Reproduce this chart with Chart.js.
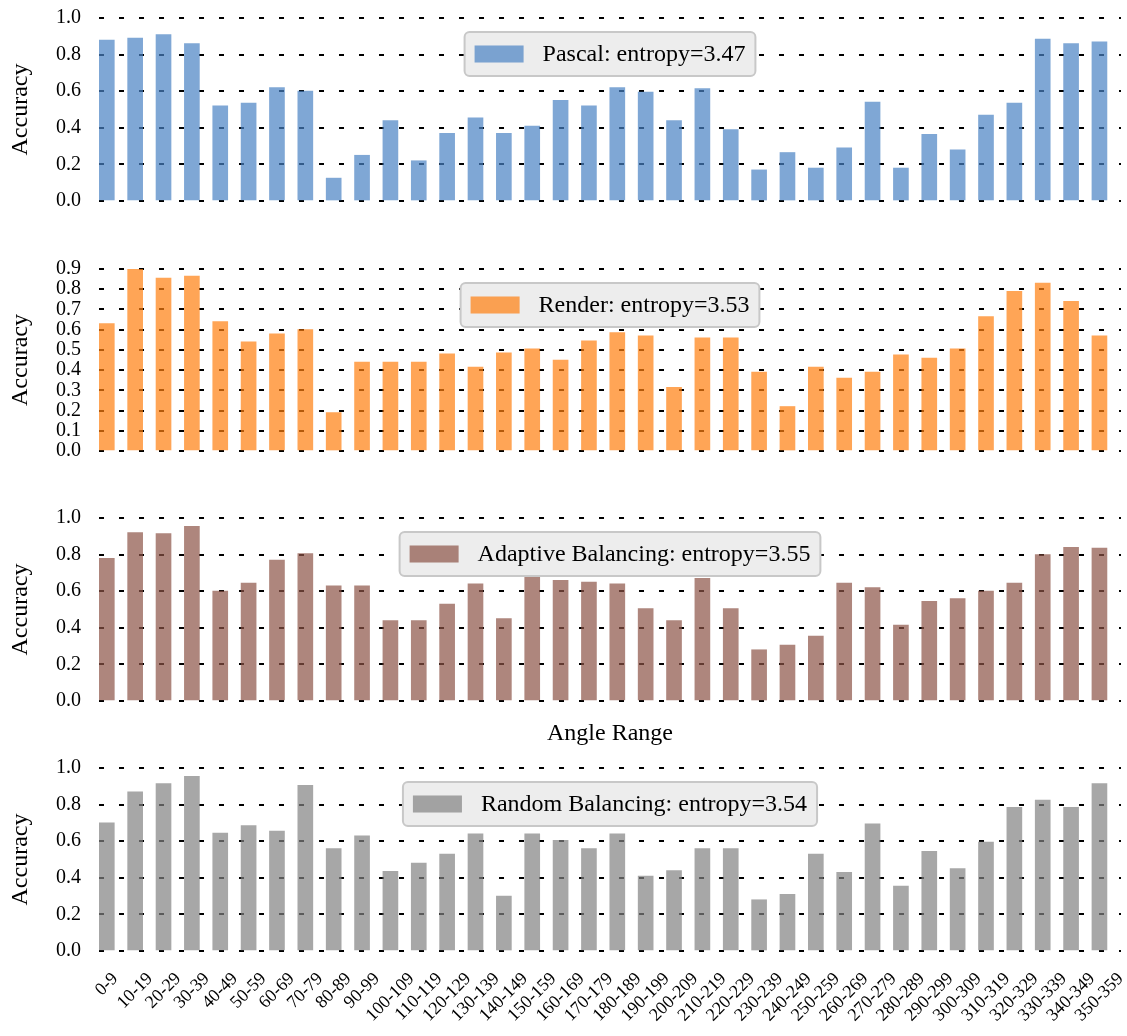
<!DOCTYPE html>
<html>
<head>
<meta charset="utf-8">
<script src="https://cdn.jsdelivr.net/npm/chart.js@4.4.1/dist/chart.umd.min.js"></script>
<style>
  html, body { margin: 0; padding: 0; background: #fff; }
  #wrap { position: relative; width: 1127px; height: 1036px; }
  #wrap canvas { position: absolute; left: 0; }
</style>
</head>
<body>
<div id="wrap">
  <canvas id="c1" width="1127" height="225" style="top:0px"></canvas>
  <canvas id="c2" width="1127" height="225" style="top:250px"></canvas>
  <canvas id="c3" width="1127" height="250" style="top:500px"></canvas>
  <canvas id="c4" width="1127" height="286" style="top:750px"></canvas>
</div>
<script>
// angle bins (x categories)
const angleRanges = ['0-9', '10-19', '20-29', '30-39', '40-49', '50-59', '60-69', '70-79', '80-89',
  '90-99', '100-109', '110-119', '120-129', '130-139', '140-149', '150-159', '160-169', '170-179',
  '180-189', '190-199', '200-209', '210-219', '220-229', '230-239', '240-249', '250-259', '260-269',
  '270-279', '280-289', '290-299', '300-309', '310-319', '320-329', '330-339', '340-349', '350-359'];

// accuracy per angle bin
const pascalAcc = [0.88, 0.89, 0.91, 0.86, 0.52, 0.535, 0.62, 0.60, 0.125, 0.25, 0.44, 0.22,
  0.37, 0.455, 0.37, 0.41, 0.55, 0.52, 0.62, 0.595, 0.44, 0.615, 0.39, 0.17,
  0.265, 0.18, 0.29, 0.54, 0.18, 0.365, 0.28, 0.47, 0.535, 0.885, 0.86, 0.87];
const renderAcc = [0.63, 0.90, 0.855, 0.865, 0.64, 0.54, 0.58, 0.60, 0.19, 0.44, 0.44, 0.44,
  0.48, 0.415, 0.485, 0.505, 0.45, 0.545, 0.585, 0.57, 0.315, 0.56, 0.56, 0.39,
  0.22, 0.415, 0.36, 0.39, 0.475, 0.46, 0.505, 0.665, 0.79, 0.83, 0.74, 0.57];
const adaptiveAcc = [0.78, 0.92, 0.915, 0.955, 0.60, 0.645, 0.77, 0.805, 0.63, 0.63, 0.44, 0.44,
  0.53, 0.64, 0.45, 0.685, 0.66, 0.65, 0.64, 0.505, 0.44, 0.67, 0.505, 0.28,
  0.305, 0.355, 0.645, 0.62, 0.415, 0.545, 0.56, 0.60, 0.645, 0.80, 0.84, 0.835];
const randomAcc = [0.70, 0.87, 0.915, 0.955, 0.645, 0.685, 0.655, 0.905, 0.56, 0.63, 0.435, 0.48,
  0.53, 0.64, 0.30, 0.64, 0.605, 0.56, 0.64, 0.41, 0.44, 0.56, 0.56, 0.28,
  0.31, 0.53, 0.43, 0.695, 0.355, 0.545, 0.45, 0.595, 0.785, 0.825, 0.785, 0.915];

const legendLabels = ['Pascal: entropy=3.47', 'Render: entropy=3.53',
  'Adaptive Balancing: entropy=3.55', 'Random Balancing: entropy=3.54'];

const SERIF = "'Liberation Serif', 'Times New Roman', serif";

// boxed legend in the upper centre of each panel
const boxLegend = {
  id: 'boxLegend',
  afterDraw(chart, args, opts) {
    const ctx = chart.ctx;
    const area = chart.chartArea;
    ctx.save();
    ctx.font = '24px ' + SERIF;
    const tw = ctx.measureText(opts.text).width;
    const w = 10 + 49 + 19 + tw + 10;
    const h = 44;
    const x = (area.left + area.right) / 2 - w / 2;
    const y = area.top + 14;
    ctx.beginPath();
    ctx.roundRect(x, y, w, h, 5);
    ctx.fillStyle = '#ededed';
    ctx.fill();
    ctx.lineWidth = 2;
    ctx.strokeStyle = '#c8c8c8';
    ctx.stroke();
    ctx.fillStyle = opts.color;
    ctx.fillRect(x + 10, y + h / 2 - 8.5, 49, 17);
    ctx.fillStyle = '#000';
    ctx.textBaseline = 'middle';
    ctx.fillText(opts.text, x + 78, y + h / 2 + 1);
    ctx.restore();
  }
};

// matplotlib-style 45 degree tick labels, centred under each bar
const angleLabels = {
  id: 'angleLabels',
  afterDraw(chart) {
    const ctx = chart.ctx;
    const xs = chart.scales.x;
    ctx.save();
    ctx.font = '18px ' + SERIF;
    ctx.fillStyle = '#000';
    ctx.textAlign = 'center';
    ctx.textBaseline = 'middle';
    angleRanges.forEach((lab, i) => {
      const px = xs.getPixelForValue(i);
      const w = ctx.measureText(lab).width;
      const H = (w + 14) * Math.SQRT1_2;
      const cy = chart.chartArea.bottom + 20 + H / 2;
      ctx.save();
      ctx.translate(px, cy);
      ctx.rotate(-Math.PI / 4);
      ctx.fillText(lab, 0, 0);
      ctx.restore();
    });
    ctx.restore();
  }
};

function makePanel(id, values, color, legend, yMax, step, padTop, xHeight, xTitle, withLabels) {
  const plugins = [boxLegend];
  if (withLabels) plugins.push(angleLabels);
  return new Chart(document.getElementById(id), {
    type: 'bar',
    data: {
      datasets: [{
        data: values.map((v, i) => ({ x: i, y: v })),
        backgroundColor: color,
        borderWidth: 0,
        barThickness: 15
      }]
    },
    plugins: plugins,
    options: {
      responsive: false,
      animation: false,
      devicePixelRatio: 1,
      layout: { padding: { top: padTop, left: 0, right: 6, bottom: 0 } },
      plugins: {
        legend: { display: false },
        tooltip: { enabled: false },
        boxLegend: { text: legend, color: color }
      },
      scales: {
        x: {
          type: 'linear',
          offset: false,
          min: -0.275,
          max: 35.76,
          grid: { display: false, drawTicks: false, offset: false },
          border: { display: false },
          ticks: { display: false },
          title: {
            display: !!xTitle,
            text: xTitle || '',
            color: '#000',
            font: { family: SERIF, size: 24 },
            padding: { top: 0, bottom: 2 }
          },
          afterFit(s) {
            s.height = xHeight;
            s.paddingLeft = 0;
            s.paddingRight = 0;
          }
        },
        y: {
          min: 0,
          max: yMax,
          grid: { color: '#000', lineWidth: 2, drawTicks: false },
          border: { display: false, dash: [5, 15] },
          ticks: {
            stepSize: step,
            autoSkip: false,
            padding: 18,
            color: '#000',
            font: { family: SERIF, size: 20 },
            callback: v => v.toFixed(1)
          },
          title: {
            display: true,
            text: 'Accuracy',
            color: '#000',
            font: { family: SERIF, size: 24 },
            padding: { top: 6, bottom: 0 }
          },
          afterFit(s) {
            s.width = 99;
            s.paddingTop = 0;
            s.paddingBottom = 0;
          }
        }
      }
    }
  });
}

makePanel('c1', pascalAcc, 'rgba(72,130,195,0.7)', legendLabels[0], 1.0, 0.2, 18, 24, null, false);
makePanel('c2', renderAcc, 'rgba(255,127,14,0.7)', legendLabels[1], 0.9, 0.1, 19, 24, null, false);
makePanel('c3', adaptiveAcc, 'rgba(140,82,70,0.7)', legendLabels[2], 1.0, 0.2, 18, 49, 'Angle Range', false);
makePanel('c4', randomAcc, 'rgba(130,130,130,0.7)', legendLabels[3], 1.0, 0.2, 18, 85, null, true);
</script>
</body>
</html>
